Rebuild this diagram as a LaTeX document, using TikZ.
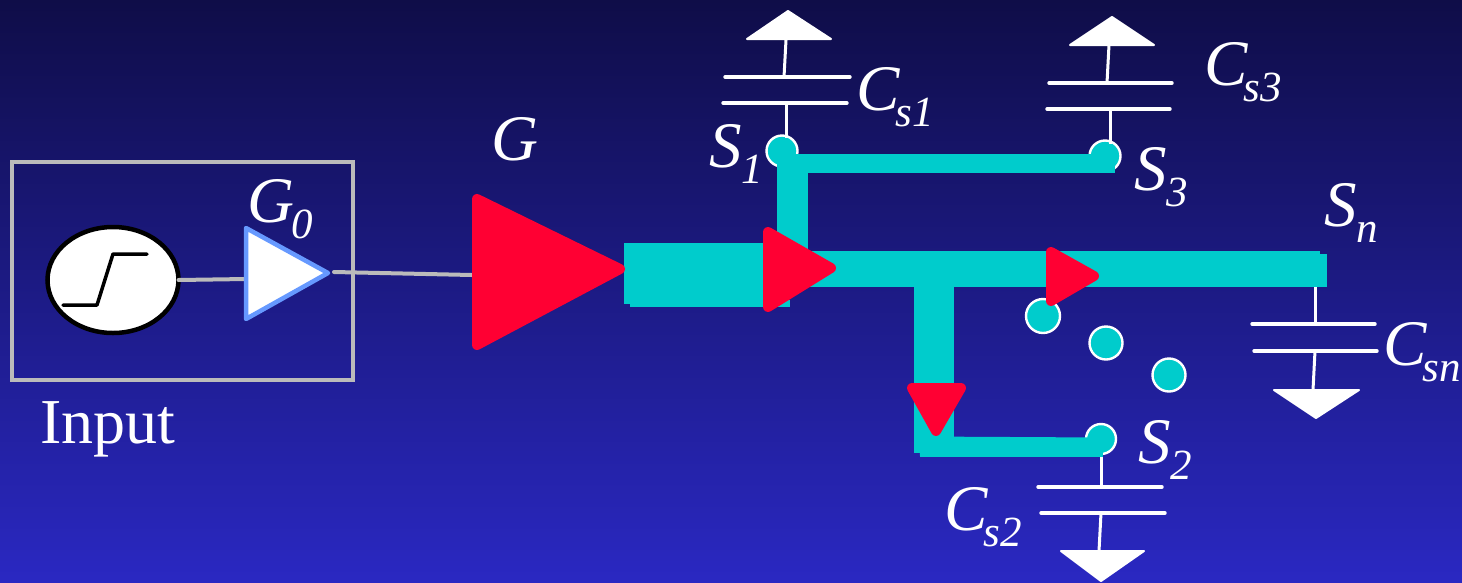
\documentclass[tikz,border=0pt]{standalone}
\usepackage{fontspec}
\usetikzlibrary{shapes.geometric}
\setmainfont{Liberation Serif}
\newcommand{\lbl}[3][0pt]{\fontsize{65}{65}\selectfont\itshape #2\kern#1\raisebox{-16pt}{\fontsize{43}{43}\selectfont\itshape #3}}
\tikzset{
  txt/.style={text=white,anchor=base west,inner sep=0pt,outer sep=0pt},
  greyline/.style={draw=linegrey,line width=4pt,line cap=round,line join=round},
  redtri/.style={fill=trired,draw=trired,line width=10pt,line join=round},
  bus/.style={draw=buscyan,line width=#1},
  pin/.style={circle,fill=buscyan,draw=white,line width=2.4pt,minimum size=#1,inner sep=0pt},
  plate/.style={draw=white,line width=3.4pt,line cap=round},
  stem/.style={draw=white,line width=3pt},
  gnd/.style={fill=white,draw=white,line width=2pt,line join=round}
}
\definecolor{linegrey}{HTML}{BBBBBB}
\definecolor{trired}{HTML}{FF0033}
\definecolor{buscyan}{HTML}{00CCCC}
\definecolor{gtop}{HTML}{0F0D48}
\definecolor{gmid}{HTML}{1A1A80}
\definecolor{gbot}{HTML}{2A28C2}
\definecolor{ampblue}{HTML}{6699FF}
\begin{document}
\begin{tikzpicture}[x=1pt,y=-1pt]
\useasboundingbox (0,0) rectangle (1462,582);
\shade[top color=gtop,middle color=gmid,bottom color=gbot] (0,0) rectangle (1462,582);

% input box
\node[draw=linegrey,line width=4pt,minimum width=341pt,minimum height=218pt,inner sep=0pt,outer sep=0pt,anchor=north west] (box) at (12,162) {};
\node[ellipse,draw=black,fill=white,line width=4.5pt,minimum width=131pt,minimum height=106pt,inner sep=0pt,outer sep=0pt] (src) at (113,280) {};
\draw[black,line width=3.5pt,line cap=round,line join=round] (63,305) -- (97,305) -- (113,254) -- (147,254);

% named terminals
\coordinate (g0in) at (246,279);
\coordinate (g0out) at (334,272);
\coordinate (gin) at (472,275);

\draw[greyline] (src.east) -- (g0in);
\draw[greyline] (g0out) -- (gin);
\draw[fill=white,draw=ampblue,line width=4.5pt,line join=round] (246,228) -- (328,273) -- (246,319) -- cycle;

% pins
\node[pin=31pt] (s1) at (782,151) {};
\node[pin=31pt] (s3) at (1105,156) {};
\node[pin=30pt] (s2) at (1101,439) {};
\node[pin=34pt] (d1) at (1043,316) {};
\node[pin=33pt] (d2) at (1106,343) {};
\node[pin=33pt] (d3) at (1169,375) {};

% capacitors
\coordinate (c1a) at (786,103); \coordinate (c1b) at (784,77); \coordinate (c1g) at (786,40);
\draw[stem] (786,138) -- (c1a); \draw[stem] (c1b) -- (c1g);
\draw[plate] (725,77) -- (850,77); \draw[plate] (723,103) -- (847,103);
\draw[gnd] (747,39) -- (831,39) -- (788,11) -- cycle;

\coordinate (c3a) at (1110,109); \coordinate (c3b) at (1107,83); \coordinate (c3g) at (1109,45);
\draw[stem] (1110,144) -- (c3a); \draw[stem] (c3b) -- (c3g);
\draw[plate] (1049,83) -- (1172,83); \draw[plate] (1047,109) -- (1170,109);
\draw[gnd] (1070,45) -- (1154,45) -- (1112,17) -- cycle;

\coordinate (cna) at (1315,285); \coordinate (cnb) at (1315,324); \coordinate (cnc) at (1315,351); \coordinate (cng) at (1313,390);
\draw[stem] (cna) -- (cnb); \draw[stem] (cnc) -- (cng);
\draw[plate] (1252,324) -- (1375,324); \draw[plate] (1254,351) -- (1377,351);
\draw[gnd] (1274,390) -- (1359,390) -- (1316,418) -- cycle;

\coordinate (c2a) at (1101,487); \coordinate (c2b) at (1101,513); \coordinate (c2g) at (1099,551);
\draw[stem] (1101,455) -- (c2a); \draw[stem] (c2b) -- (c2g);
\draw[plate] (1038,487) -- (1162,487); \draw[plate] (1041,513) -- (1165,513);
\draw[gnd] (1061,551) -- (1144,551) -- (1101,581) -- cycle;

% interconnect
\coordinate (w0) at (624,273.5); \coordinate (w1) at (785,273.5);
\coordinate (m0) at (785,269); \coordinate (m1) at (1320,269); \coordinate (m1b) at (1327,270.5); \coordinate (m0b) at (1300,270.5);
\coordinate (v0) at (792.5,255); \coordinate (v1) at (792.5,154);
\coordinate (t0) at (777,163.5); \coordinate (t1) at (1115,163.5);
\coordinate (b0) at (934,270); \coordinate (b1) at (934,453);
\coordinate (l0) at (914,446); \coordinate (l1) at (1103,447);
\coordinate (l2) at (920,455);
\draw[bus=61pt] (w0) -- (w1);
\fill[buscyan] (630,300) rectangle (790,307);
\draw[bus=36pt] (m0) -- (m1);
\draw[bus=33pt] (m0b) -- (m1b);
\draw[bus=31pt] (v0) -- (v1);
\draw[bus=19pt] (t0) -- (t1);
\draw[bus=40pt] (b0) -- (b1);
\draw[bus=19pt] (l2 |- l0) -- (l1);
\draw[bus=4pt] (l2) -- (l1 |- l2);

% red drivers
\draw[redtri] (477,199) -- (620,269) -- (477,345) -- cycle;
\draw[redtri] (768,232) -- (831,268) -- (768,307) -- cycle;
\draw[redtri] (1051,252) -- (1094,276) -- (1051,301) -- cycle;
\draw[redtri] (912,388) -- (961,388) -- (936,431) -- cycle;

% labels
\node[txt] (lG) at (491,160) {\lbl{G}{}};
\node[txt] (lG0) at (247,222) {\lbl[-2pt]{G}{0}};
\node[txt] (lS1) at (709,167) {\lbl{S}{1}};
\node[txt] (lS3) at (1134,190) {\lbl{S}{3}};
\node[txt] (lSn) at (1324,226) {\lbl{S}{n}};
\node[txt] (lS2) at (1138,463) {\lbl{S}{2}};
\node[txt] (lC1) at (856,110) {\lbl[-4pt]{C}{s1}};
\node[txt] (lC3) at (1204,85) {\lbl[-4pt]{C}{s3}};
\node[txt] (lCn) at (1383,365) {\lbl[-4pt]{C}{sn}};
\node[txt] (lC2) at (944,530) {\lbl[-4pt]{C}{s2}};
\node[txt] (lIn) at (40,443) {\fontsize{64}{64}\selectfont Input};
\end{tikzpicture}
\end{document}
